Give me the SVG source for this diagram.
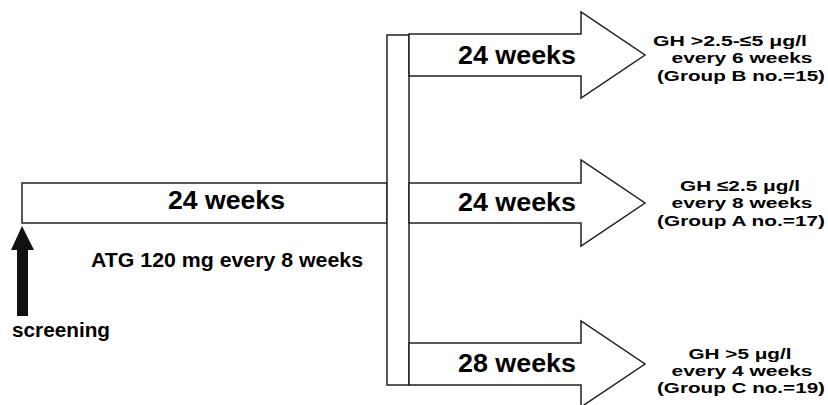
<svg xmlns="http://www.w3.org/2000/svg" width="828" height="405" viewBox="0 0 828 405">
<style>
.box{fill:#fff;stroke:#222;stroke-width:1.5;stroke-linejoin:miter}
text{font-family:"Liberation Sans",Arial,sans-serif;font-weight:bold;fill:#000}
.big{font-size:25px}
.mid{font-size:20px}
.small{font-size:15.5px;text-anchor:middle}
</style>
<rect width="828" height="405" fill="#fff"/>
<g id="baseline">
<rect class="box" x="22" y="183" width="365" height="40"/>
<text class="big" x="168" y="209" textLength="117" lengthAdjust="spacingAndGlyphs">24 weeks</text>
<text class="mid" x="91" y="267" textLength="272" lengthAdjust="spacingAndGlyphs">ATG 120 mg every 8 weeks</text>
</g>
<g id="screening">
<polygon points="22,226 34,250 28,250 28,316 17,316 17,250 11,250" fill="#111"/>
<text class="mid" x="12" y="337" textLength="98" lengthAdjust="spacingAndGlyphs">screening</text>
</g>
<g id="split-bar">
<rect class="box" x="387" y="35" width="22" height="350"/>
</g>
<g id="connectors">
<g id="arm-B">
<polygon class="box" points="409,34 581,34 581,12 645,55 581,98 581,76 409,76"/>
<text class="big" x="458" y="64" textLength="118" lengthAdjust="spacingAndGlyphs">24 weeks</text>
</g>
<g id="arm-A">
<polygon class="box" points="409,183 581,183 581,160 645,203 581,246 581,223 409,223"/>
<text class="big" x="458" y="211" textLength="118" lengthAdjust="spacingAndGlyphs">24 weeks</text>
</g>
<g id="arm-C">
<polygon class="box" points="409,343 581,343 581,321 645,364 581,407 581,385 409,385"/>
<text class="big" x="458" y="372" textLength="118" lengthAdjust="spacingAndGlyphs">28 weeks</text>
</g>
</g>
<g id="group-B">
<text class="small" x="730" y="46" textLength="154" lengthAdjust="spacingAndGlyphs">GH &gt;2.5-≤5 μg/l</text>
<text class="small" x="742" y="63" textLength="141" lengthAdjust="spacingAndGlyphs">every 6 weeks</text>
<text class="small" x="741" y="81" textLength="168" lengthAdjust="spacingAndGlyphs">(Group B no.=15)</text>
</g>
<g id="group-A">
<text class="small" x="740" y="191" textLength="120" lengthAdjust="spacingAndGlyphs">GH ≤2.5 μg/l</text>
<text class="small" x="742" y="208" textLength="141" lengthAdjust="spacingAndGlyphs">every 8 weeks</text>
<text class="small" x="741" y="226" textLength="168" lengthAdjust="spacingAndGlyphs">(Group A no.=17)</text>
</g>
<g id="group-C">
<text class="small" x="740" y="359" textLength="103" lengthAdjust="spacingAndGlyphs">GH &gt;5 μg/l</text>
<text class="small" x="742" y="376" textLength="141" lengthAdjust="spacingAndGlyphs">every 4 weeks</text>
<text class="small" x="741" y="393" textLength="168" lengthAdjust="spacingAndGlyphs">(Group C no.=19)</text>
</g>
</svg>
